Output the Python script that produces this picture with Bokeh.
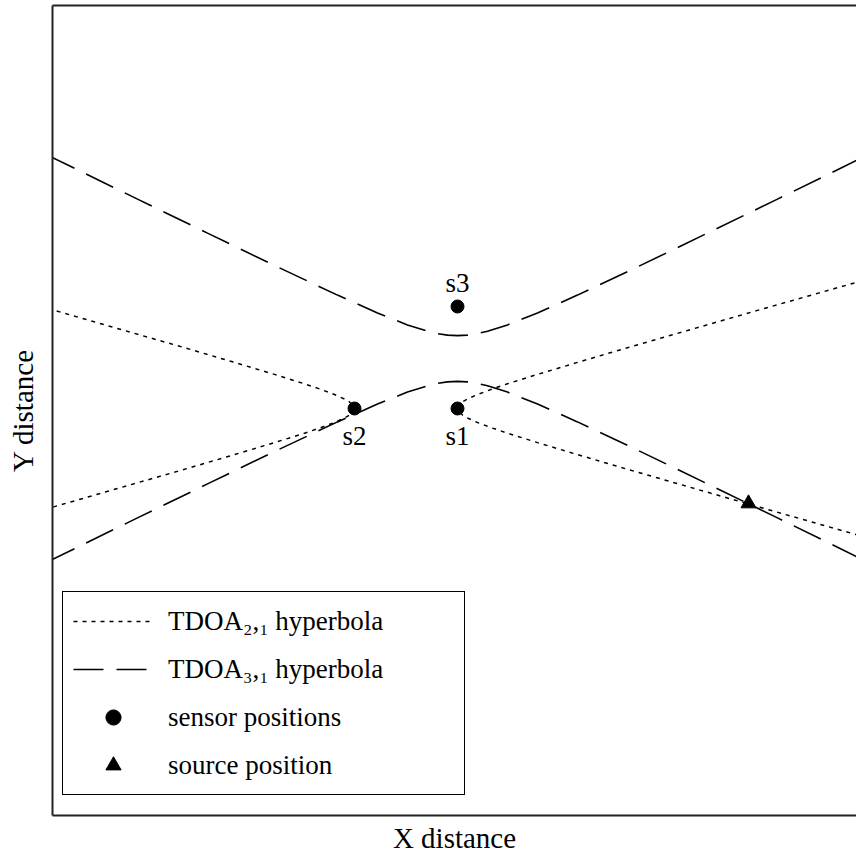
from bokeh.plotting import figure
from bokeh.models import Range1d, LinearAxis, FixedTicker, Legend, LegendItem
from bokeh.embed import file_html
from bokeh.resources import INLINE

# ---- data (s1 placed at the origin) ----
sensor_names = ["s1", "s2", "s3"]
sensor_x = [0.0, -1.03, 0.0]
sensor_y = [0.0, 0.0, 1.02]
source_x = [2.91]
source_y = [-0.95]

# TDOA_{2,1} hyperbola: two branches opening left / right (half-opening h around y = 0)
t21_center_y = 0.0
t21_right_x = [0.0, 0.05, 0.10, 0.20, 0.35, 0.50, 0.80, 1.20, 1.70, 2.30, 3.00, 3.60, 4.10]
t21_right_h = [0.0, 0.066, 0.095, 0.140, 0.196, 0.247, 0.341, 0.461, 0.608, 0.780, 0.981, 1.151, 1.293]
t21_left_x = [-1.03, -1.08, -1.13, -1.23, -1.38, -1.53, -1.83, -2.23, -2.73, -3.33, -4.03, -4.13]
t21_left_h = [0.0, 0.066, 0.095, 0.140, 0.196, 0.247, 0.341, 0.461, 0.608, 0.780, 0.981, 1.009]

# TDOA_{3,1} hyperbola: two branches opening up / down (half-gap h around y = 0.50)
t31_center_y = 0.50
t31_x = [-4.10, -3.20, -2.50, -1.80, -1.20, -0.80, -0.50, -0.30, -0.20, -0.10, 0.0,
         0.10, 0.20, 0.30, 0.50, 0.80, 1.20, 1.80, 2.50, 3.20, 4.10]
t31_h = [2.034, 1.594, 1.254, 0.916, 0.634, 0.456, 0.336, 0.273, 0.249, 0.234, 0.229,
         0.234, 0.249, 0.273, 0.336, 0.456, 0.634, 0.916, 1.254, 1.594, 2.034]

legend_labels = ["TDOA\u2082,\u2081 hyperbola", "TDOA\u2083,\u2081 hyperbola",
                 "sensor positions", "source position"]
x_label = "X distance"
y_label = "Y distance"


def branch(xs, hs, cy):
    bx = list(reversed(xs)) + list(xs[1:])
    by = [cy - h for h in reversed(hs)] + [cy + h for h in hs[1:]]
    return bx, by


SERIF = "Liberation Serif"

p = figure(width=856, height=856,
           x_range=Range1d(-4.05, 3.99), y_range=Range1d(-4.07, 4.03),
           output_backend="svg", toolbar_location=None,
           min_border_left=52, min_border_right=0, min_border_top=5, min_border_bottom=41,
           x_axis_label=x_label, y_axis_label=y_label)
p.grid.visible = False
p.outline_line_color = None
p.background_fill_color = "white"
p.border_fill_color = "white"

top_axis = LinearAxis()
p.add_layout(top_axis, "above")

for ax in list(p.xaxis) + list(p.yaxis):
    ax.ticker = FixedTicker(ticks=[])
    ax.major_tick_out = 0
    ax.major_tick_in = 0
    ax.minor_tick_out = 0
    ax.minor_tick_in = 0
    ax.major_label_standoff = 0
    ax.axis_line_color = "#222222"
    ax.axis_line_width = 2
    ax.axis_label_text_font = SERIF
    ax.axis_label_text_font_size = "29px"
    ax.axis_label_text_font_style = "normal"
    ax.axis_label_text_color = "black"

p.below[0].axis_label_standoff = 6
p.left[0].axis_label_standoff = 14

# hyperbolas
lx, ly = branch(t21_left_x, t21_left_h, t21_center_y)
rx, ry = branch(t21_right_x, t21_right_h, t21_center_y)
r21a = p.line(lx, ly, line_color="black", line_width=1.5, line_dash="4 5")
r21b = p.line(rx, ry, line_color="black", line_width=1.5, line_dash="4 5")

up_y = [t31_center_y + h for h in t31_h]
lo_y = [t31_center_y - h for h in t31_h]
r31a = p.line(t31_x, up_y, line_color="black", line_width=1.6, line_dash="30 13")
r31b = p.line(t31_x, lo_y, line_color="black", line_width=1.6, line_dash="30 13")

# sensors and source
rs = p.scatter(sensor_x, sensor_y, marker="circle", size=13, color="black")
rsrc = p.scatter(source_x, source_y, marker="triangle", size=15, color="black")

p.text(x=sensor_x, y=sensor_y, text=sensor_names,
       y_offset=[27, 27, -24], text_align="center", text_baseline="middle",
       text_font={"value": SERIF}, text_font_size="27px", text_color="black")

legend = Legend(items=[
    LegendItem(label=legend_labels[0], renderers=[r21b]),
    LegendItem(label=legend_labels[1], renderers=[r31a]),
    LegendItem(label=legend_labels[2], renderers=[rs]),
    LegendItem(label=legend_labels[3], renderers=[rsrc]),
], location=(10, 20))
legend.label_text_font = SERIF
legend.label_text_font_size = "27px"
legend.label_text_color = "black"
legend.glyph_width = 80
legend.glyph_height = 38
legend.label_height = 38
legend.label_width = 286
legend.label_standoff = 15
legend.padding = 10
legend.spacing = 10
legend.margin = 0
legend.border_line_color = "black"
legend.border_line_alpha = 1.0
legend.border_line_width = 1.5
legend.background_fill_color = "white"
legend.background_fill_alpha = 1.0
p.add_layout(legend)

open("out.html", "w").write(file_html(p, INLINE))
